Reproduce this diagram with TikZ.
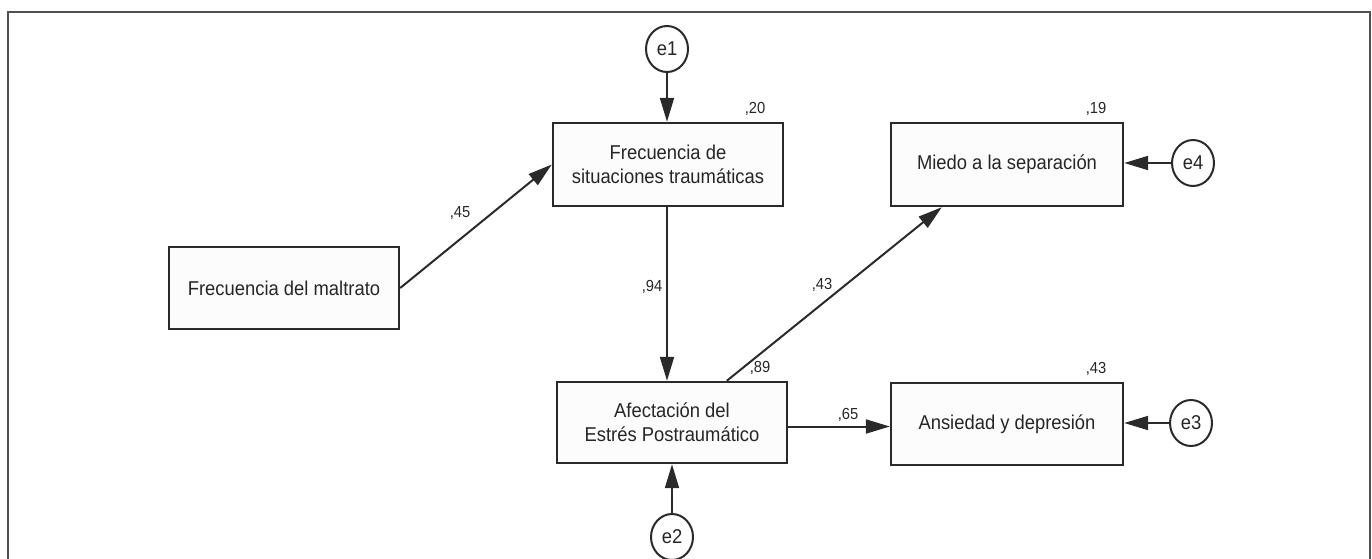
\documentclass[tikz,border=0pt]{standalone}
\usepackage{fontspec}
\setmainfont{Liberation Sans}[FakeStretch=0.92]
\usetikzlibrary{arrows.meta,shapes.geometric}
\definecolor{edge}{HTML}{2A2A2A}
\definecolor{boxfill}{HTML}{FCFCFC}
\definecolor{frame}{HTML}{505050}
\tikzset{
  var/.style={draw=edge, line width=2.4pt, fill=boxfill, inner sep=0pt, align=center,
    text=black!85, font=\fontsize{20}{24}\selectfont},
  err/.style={draw=edge, line width=2pt, fill=white, ellipse, inner sep=0pt,
    text=black!85, minimum width=42pt, minimum height=46pt, font=\fontsize{20}{24}\selectfont},
  path/.style={draw=edge, line width=2pt, -{Triangle[length=24pt,width=14pt]}},
  coef/.style={inner sep=0pt, text=black!85, font=\fontsize{16}{18}\selectfont}
}
\begin{document}
\begin{tikzpicture}[x=1pt,y=-1pt]
\useasboundingbox (0,0) rectangle (1372,558);
\draw[frame, line width=1.8pt] (8,560) -- (8,12) -- (1370,12) -- (1370,560);

\node[var, minimum width=230pt, minimum height=82pt] (mal) at (284,288) {Frecuencia del maltrato};
\node[var, minimum width=230pt, minimum height=83pt] (sit) at (668,164.5) {Frecuencia de\\situaciones traumáticas};
\node[var, minimum width=232pt, minimum height=83pt] (mie) at (1007,164.5) {Miedo a la separación};
\node[var, minimum width=230pt, minimum height=81pt] (afe) at (672,422.5) {Afectación del\\Estrés Postraumático};
\node[var, minimum width=232pt, minimum height=82pt] (ans) at (1007,424) {Ansiedad y depresión};

\node[err] (e1) at (667,49) {e1};
\node[err] (e2) at (672,537) {e2};
\node[err] (e3) at (1191,423) {e3};
\node[err] (e4) at (1193,163) {e4};

\draw[path] (mal.east) -- (sit.west);
\draw[path] ([xshift=-1pt]sit.south) -- ([xshift=-1pt]sit.south |- afe.north);
\draw[path] (e1.south) -- (e1.south |- sit.north);
\draw[path] ([xshift=171pt]afe.north west) -- ([xshift=52pt]mie.south west);
\draw[path] ([yshift=-4pt]afe.east) -- ([yshift=-4pt]afe.east -| ans.west);
\draw[path] (e4.west) -- (e4.west -| mie.east);
\draw[path] (e3.west) -- (e3.west -| ans.east);
\draw[path] (e2.north) -- (e2.north |- afe.south);

\node[coef] (c45) at (460,213) {,45};
\node[coef] (c94) at (652,287) {,94};
\node[coef] (c43a) at (822,285) {,43};
\node[coef] (c65) at (848,415) {,65};
\node[coef] (r89) at (760,368) {,89};
\node[coef] (r20) at (755,109) {,20};
\node[coef] (r19) at (1096,109) {,19};
\node[coef] (r43) at (1096,369) {,43};
\end{tikzpicture}
\end{document}
